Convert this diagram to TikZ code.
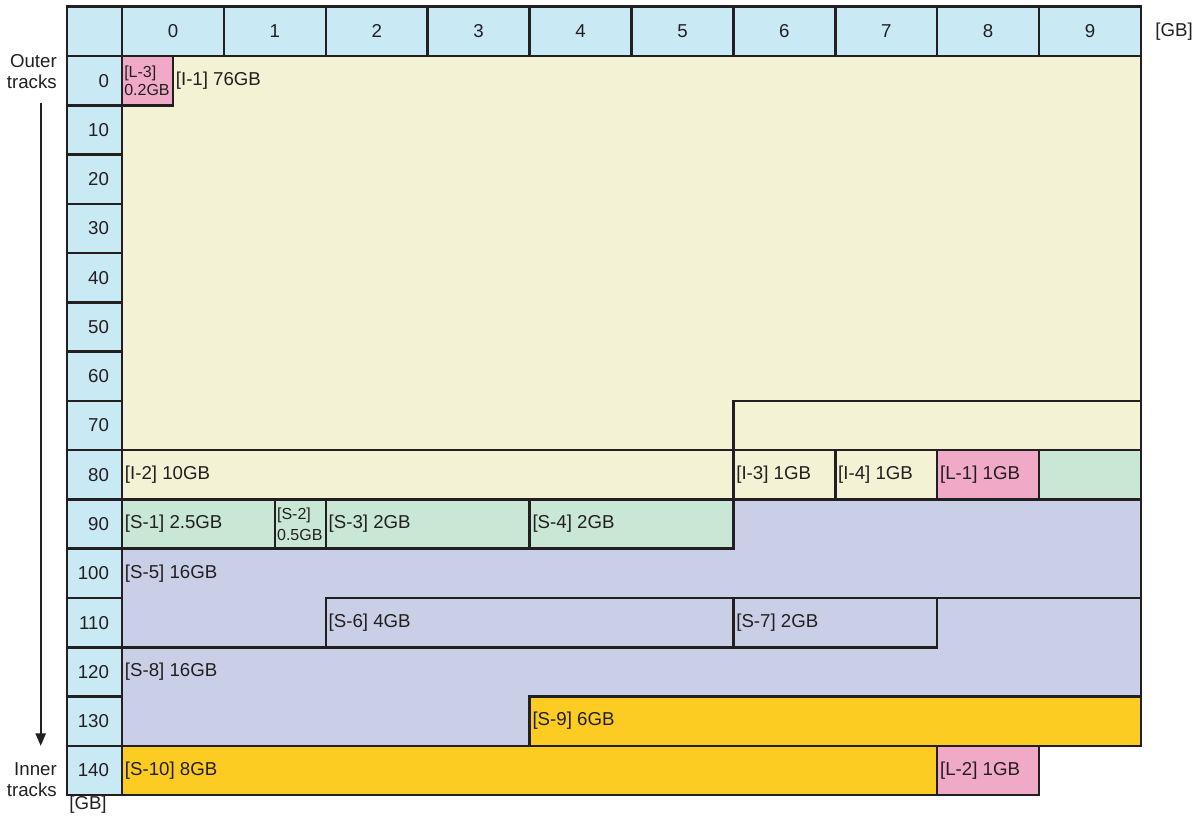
\documentclass[tikz,border=0pt]{standalone}
\usepackage{fontspec}
\setmainfont{Liberation Sans}
\usetikzlibrary{arrows.meta}
\definecolor{ink}{RGB}{35,31,32}
\definecolor{cblue}{RGB}{201,233,245}
\definecolor{cream}{RGB}{243,242,212}
\definecolor{pinkc}{RGB}{240,169,198}
\definecolor{greenc}{RGB}{201,231,213}
\definecolor{lav}{RGB}{202,207,232}
\definecolor{yel}{RGB}{252,204,34}
\begin{document}
\begin{tikzpicture}[x=0.75pt,y=-0.75pt,
  font=\fontsize{14}{15.75}\selectfont, text=ink,
  edge/.style={draw=ink, line width=1.9pt, line cap=rect, line join=miter},
  lbl/.style={anchor=west, inner sep=2pt},
  small/.style={anchor=west, inner sep=1.5pt, align=left, font=\fontsize{12}{14}\selectfont},
  side/.style={anchor=east, inner sep=0pt, align=right}]
\useasboundingbox (0,0) rectangle (1201,816);

\begin{scope}[shift={(91.5pt,-42pt)}, x=76.425pt, y=-36.9525pt]
  % fills
  \fill[cream] (0,0) -- (10,0) -- (10,8) -- (8,8) -- (8,9) -- (0,9) -- cycle;
  \fill[pinkc] (0,0) rectangle (0.5,1);
  \fill[pinkc] (8,8) rectangle (9,9);
  \fill[greenc] (9,8) rectangle (10,9);
  \fill[greenc] (0,9) rectangle (6,10);
  \fill[lav] (6,9) -- (10,9) -- (10,13) -- (4,13) -- (4,14) -- (0,14) -- (0,10) -- (6,10) -- cycle;
  \fill[yel] (4,13) -- (10,13) -- (10,14) -- (8,14) -- (8,15) -- (0,15) -- (0,14) -- (4,14) -- cycle;
  \fill[pinkc] (8,14) rectangle (9,15);

  % header cells
  \draw[edge, fill=cblue] (-0.54,-1) rectangle (0,0);
  \foreach \c in {0,...,9} {
    \draw[edge, fill=cblue] (\c,-1) rectangle (\c+1,0);
    \node (h\c) at (\c+0.5,-0.5) {\c};
  }
  % row label cells
  \foreach \r [evaluate=\r as \v using int(10*\r)] in {0,...,14} {
    \draw[edge, fill=cblue] (-0.54,\r) rectangle (0,\r+1);
    \node[anchor=east, inner sep=0pt] (r\r) at (-0.125,\r+0.5) {\v};
  }

  % region borders
  \draw[edge] (10,0) -- (10,14);
  \draw[edge] (0,1) -- (0.5,1) -- (0.5,0);
  \draw[edge] (0,8) -- (6,8) -- (6,7) -- (10,7);
  \draw[edge] (6,8) -- (10,8);
  \draw[edge] (6,7) -- (6,10);
  \draw[edge] (7,8) -- (7,9);
  \draw[edge] (8,8) -- (8,9);
  \draw[edge] (9,8) -- (9,9);
  \draw[edge] (0,9) -- (10,9);
  \draw[edge] (1.5,9) -- (1.5,10);
  \draw[edge] (2,9) -- (2,10);
  \draw[edge] (4,9) -- (4,10);
  \draw[edge] (0,10) -- (6,10);
  \draw[edge] (2,12) -- (2,11) -- (10,11);
  \draw[edge] (0,12) -- (8,12) -- (8,11);
  \draw[edge] (6,11) -- (6,12);
  \draw[edge] (4,14) -- (4,13) -- (10,13);
  \draw[edge] (0,14) -- (10,14);
  \draw[edge] (0,15) -- (9,15) -- (9,14);
  \draw[edge] (8,14) -- (8,15);

  % region labels
  \node[small] (l3) at (0,0.5) {[L-3]\\0.2GB};
  \node[lbl] (i1) at (0.5,0.5) {[I-1] 76GB};
  \node[lbl] (i2) at (0,8.5) {[I-2] 10GB};
  \node[lbl] (i3) at (6,8.5) {[I-3] 1GB};
  \node[lbl] (i4) at (7,8.5) {[I-4] 1GB};
  \node[lbl] (l1) at (8,8.5) {[L-1] 1GB};
  \node[lbl] (s1) at (0,9.5) {[S-1] 2.5GB};
  \node[small, font=\fontsize{12}{15.5}\selectfont] (s2) at (1.5,9.5) {[S-2]\\0.5GB};
  \node[lbl] (s3) at (2,9.5) {[S-3] 2GB};
  \node[lbl] (s4) at (4,9.5) {[S-4] 2GB};
  \node[lbl] (s5) at (0,10.5) {[S-5] 16GB};
  \node[lbl] (s6) at (2,11.5) {[S-6] 4GB};
  \node[lbl] (s7) at (6,11.5) {[S-7] 2GB};
  \node[lbl] (s8) at (0,12.5) {[S-8] 16GB};
  \node[lbl] (s9) at (4,13.5) {[S-9] 6GB};
  \node[lbl] (s10) at (0,14.5) {[S-10] 8GB};
  \node[lbl] (l2) at (8,14.5) {[L-2] 1GB};
\end{scope}

% outside labels
\node (gbr) at (1174,32) {[GB]};
\node (gbb) at (88,805) {[GB]};
\node[side] (outer) at (57,72) {Outer\\tracks};
\node[side] (inner) at (57,780) {Inner\\tracks};
\coordinate (atop) at (40.7,103);
\coordinate (abot) at (40.7,746);
\draw[ink, line width=1.8pt, -{Triangle[length=9.5pt,width=7.5pt]}] (atop) -- (abot);
\end{tikzpicture}
\end{document}
